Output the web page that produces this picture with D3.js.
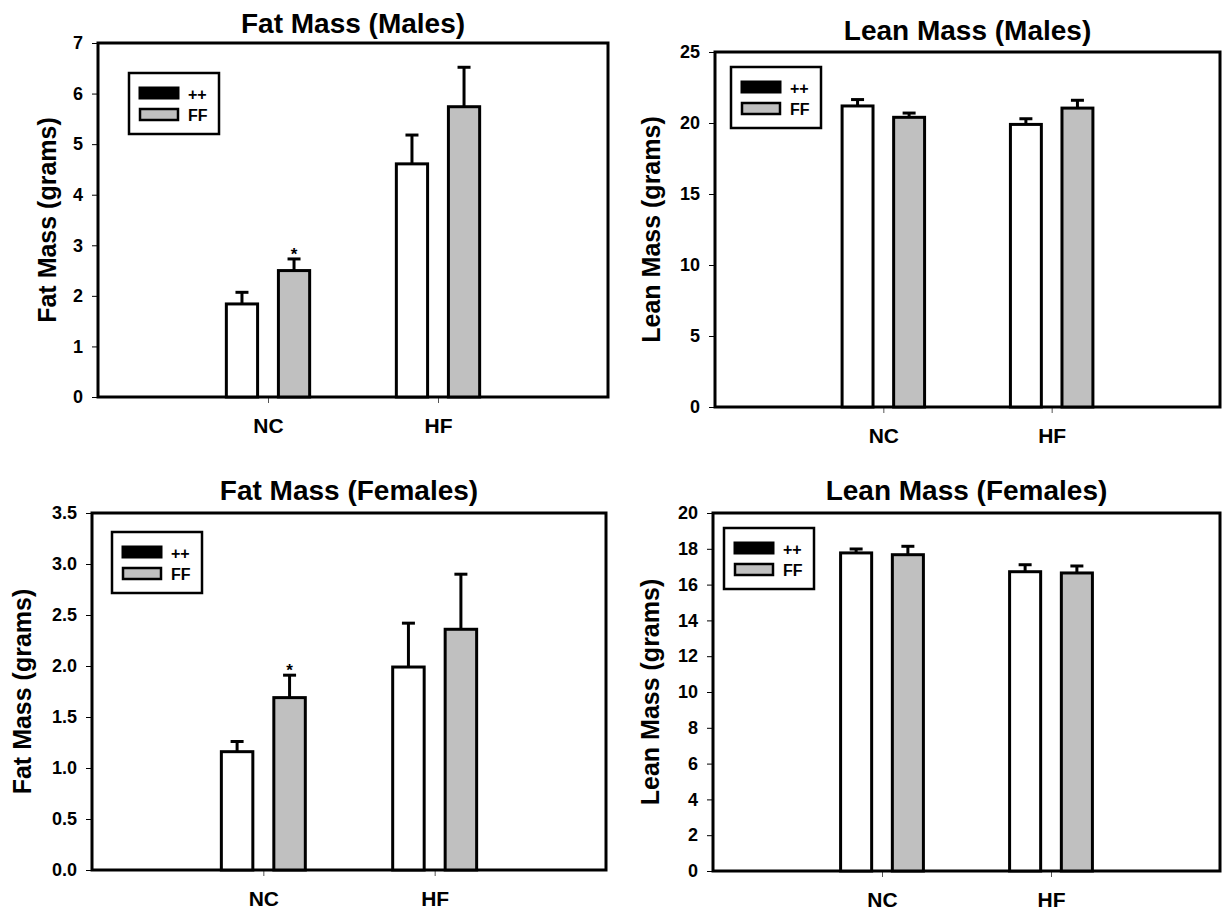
<!DOCTYPE html>
<html>
<head>
<title>Fat and lean mass</title>
<script src="https://d3js.org/d3.v7.min.js"></script>
<style>
    body { margin: 0; background: white; }
    text { font-family: "Liberation Sans", Arial, sans-serif; font-weight: bold; fill: black; }
</style>
</head>
<body>
<div id="chart"></div>
<script>
// categories and series
const categories = ["NC", "HF"];
const genotypes = ["++", "FF"];

// Fat mass, males (grams)
const fatMalesWT = [1.84, 4.61];
const fatMalesWTErr = [0.23, 0.57];
const fatMalesFF = [2.50, 5.74];
const fatMalesFFErr = [0.23, 0.78];
const fatMalesSig = ["*", ""];        // marks above FF bars

// Lean mass, males (grams)
const leanMalesWT = [21.2, 19.9];
const leanMalesWTErr = [0.45, 0.4];
const leanMalesFF = [20.4, 21.05];
const leanMalesFFErr = [0.3, 0.55];
const leanMalesSig = ["", ""];

// Fat mass, females (grams)
const fatFemalesWT = [1.16, 1.99];
const fatFemalesWTErr = [0.10, 0.43];
const fatFemalesFF = [1.69, 2.36];
const fatFemalesFFErr = [0.22, 0.54];
const fatFemalesSig = ["*", ""];

// Lean mass, females (grams)
const leanFemalesWT = [17.77, 16.72];
const leanFemalesWTErr = [0.22, 0.39];
const leanFemalesFF = [17.67, 16.65];
const leanFemalesFFErr = [0.47, 0.39];
const leanFemalesSig = ["", ""];

// y tick labels per panel
const fatMalesTicks = [0, 1, 2, 3, 4, 5, 6, 7];
const leanMalesTicks = [0, 5, 10, 15, 20, 25];
const fatFemalesTicks = [0, 0.5, 1.0, 1.5, 2.0, 2.5, 3.0, 3.5];
const leanFemalesTicks = [0, 2, 4, 6, 8, 10, 12, 14, 16, 18, 20];

const svg = d3.select("#chart").append("svg")
    .attr("width", 1222).attr("height", 913)
    .style("background", "white");

const panels = [
    { title: "Fat Mass (Males)", ylabel: "Fat Mass (grams)",
      left: 98, right: 608, top: 43, bottom: 397, titleY: 33, labelX: 56,
      ticks: fatMalesTicks, fmt: d3.format("d"),
      wt: fatMalesWT, wtErr: fatMalesWTErr, ff: fatMalesFF, ffErr: fatMalesFFErr, sig: fatMalesSig,
      legX: 129, legY: 73 },
    { title: "Lean Mass (Males)", ylabel: "Lean Mass (grams)",
      left: 715, right: 1220, top: 52, bottom: 407, titleY: 40, labelX: 660,
      ticks: leanMalesTicks, fmt: d3.format("d"),
      wt: leanMalesWT, wtErr: leanMalesWTErr, ff: leanMalesFF, ffErr: leanMalesFFErr, sig: leanMalesSig,
      legX: 731, legY: 67 },
    { title: "Fat Mass (Females)", ylabel: "Fat Mass (grams)",
      left: 92, right: 606, top: 513, bottom: 870, titleY: 500, labelX: 31,
      ticks: fatFemalesTicks, fmt: d3.format(".1f"),
      wt: fatFemalesWT, wtErr: fatFemalesWTErr, ff: fatFemalesFF, ffErr: fatFemalesFFErr, sig: fatFemalesSig,
      legX: 112, legY: 532 },
    { title: "Lean Mass (Females)", ylabel: "Lean Mass (grams)",
      left: 713, right: 1220, top: 513, bottom: 871, titleY: 500, labelX: 659,
      ticks: leanFemalesTicks, fmt: d3.format("d"),
      wt: leanFemalesWT, wtErr: leanFemalesWTErr, ff: leanFemalesFF, ffErr: leanFemalesFFErr, sig: leanFemalesSig,
      legX: 724, legY: 528 }
];

const fills = { "++": "white", "FF": "#c0c0c0" };

panels.forEach(drawPanel);

function drawPanel(p) {
    let g = svg.append("g");

    let x = d3.scalePoint().domain(categories).range([p.left, p.right]).padding(1);
    let step = x.step();
    let sub = d3.scaleBand().domain(genotypes)
        .range([-0.245 * step, 0.245 * step]).paddingInner(0.4);
    let y = d3.scaleLinear()
        .domain([0, p.ticks[p.ticks.length - 1]])
        .range([p.bottom, p.top]);

    // y axis ticks
    let ya = g.append("g")
        .attr("transform", "translate(" + p.left + ",0)")
        .call(d3.axisLeft(y).tickValues(p.ticks).tickFormat(p.fmt).tickSize(6).tickPadding(9));
    ya.select(".domain").remove();
    ya.selectAll("line").attr("stroke", "black").attr("stroke-width", 1);
    ya.selectAll("text").style("font-size", "18px").attr("font-family", null);

    // x axis ticks
    let xa = g.append("g")
        .attr("transform", "translate(0," + p.bottom + ")")
        .call(d3.axisBottom(x).tickSize(6).tickPadding(15));
    xa.select(".domain").remove();
    xa.selectAll("line").attr("stroke", "#555").attr("stroke-width", 1);
    xa.selectAll("text").style("font-size", "21px").attr("font-family", null);

    // rows: one per category x genotype
    let rows = [];
    categories.forEach((c, i) => {
        rows.push({ cat: c, geno: "++", v: p.wt[i], e: p.wtErr[i], sig: "" });
        rows.push({ cat: c, geno: "FF", v: p.ff[i], e: p.ffErr[i], sig: p.sig[i] });
    });
    let cx = d => x(d.cat) + sub(d.geno) + sub.bandwidth() / 2;

    // error bars (upper only)
    g.selectAll(".err").data(rows).join("line")
        .attr("x1", cx).attr("x2", cx)
        .attr("y1", d => y(d.v)).attr("y2", d => y(d.v + d.e))
        .attr("stroke", "black").attr("stroke-width", 3);
    g.selectAll(".cap").data(rows).join("line")
        .attr("x1", d => cx(d) - 6.5).attr("x2", d => cx(d) + 6.5)
        .attr("y1", d => y(d.v + d.e)).attr("y2", d => y(d.v + d.e))
        .attr("stroke", "black").attr("stroke-width", 3);

    // frame
    g.append("rect")
        .attr("x", p.left).attr("y", p.top)
        .attr("width", p.right - p.left).attr("height", p.bottom - p.top)
        .attr("fill", "none").attr("stroke", "black").attr("stroke-width", 3);

    // bars
    g.selectAll(".bar").data(rows).join("rect")
        .attr("x", d => x(d.cat) + sub(d.geno))
        .attr("width", sub.bandwidth())
        .attr("y", d => y(d.v))
        .attr("height", d => y(0) - y(d.v))
        .attr("fill", d => fills[d.geno])
        .attr("stroke", "black").attr("stroke-width", 3);

    // significance marks
    g.selectAll(".sig").data(rows.filter(d => d.sig)).join("text")
        .attr("x", cx).attr("y", d => y(d.v + d.e) + 1)
        .attr("text-anchor", "middle")
        .style("font-size", "17px")
        .text(d => d.sig);

    // title
    g.append("text")
        .attr("x", (p.left + p.right) / 2).attr("y", p.titleY)
        .attr("text-anchor", "middle")
        .style("font-size", "28px")
        .text(p.title);

    // y label
    g.append("text")
        .attr("transform", "translate(" + p.labelX + "," + ((p.top + p.bottom) / 2) + ") rotate(-90)")
        .attr("text-anchor", "middle")
        .style("font-size", "25px")
        .text(p.ylabel);

    // legend
    let leg = g.append("g").attr("transform", "translate(" + p.legX + "," + p.legY + ")");
    leg.append("rect").attr("x", 0).attr("y", 0).attr("width", 90).attr("height", 61)
        .attr("fill", "white").attr("stroke", "black").attr("stroke-width", 2.5);
    leg.append("rect").attr("x", 10).attr("y", 14).attr("width", 40).attr("height", 12)
        .attr("fill", "black").attr("stroke", "black").attr("stroke-width", 1);
    leg.append("rect").attr("x", 11).attr("y", 36).attr("width", 38).attr("height", 11)
        .attr("fill", "#c0c0c0").attr("stroke", "black").attr("stroke-width", 2.5);
    leg.append("text").attr("x", 59).attr("y", 27).style("font-size", "16px").text("++");
    leg.append("text").attr("x", 59).attr("y", 48).style("font-size", "16px").text("FF");
}
</script>
</body>
</html>
